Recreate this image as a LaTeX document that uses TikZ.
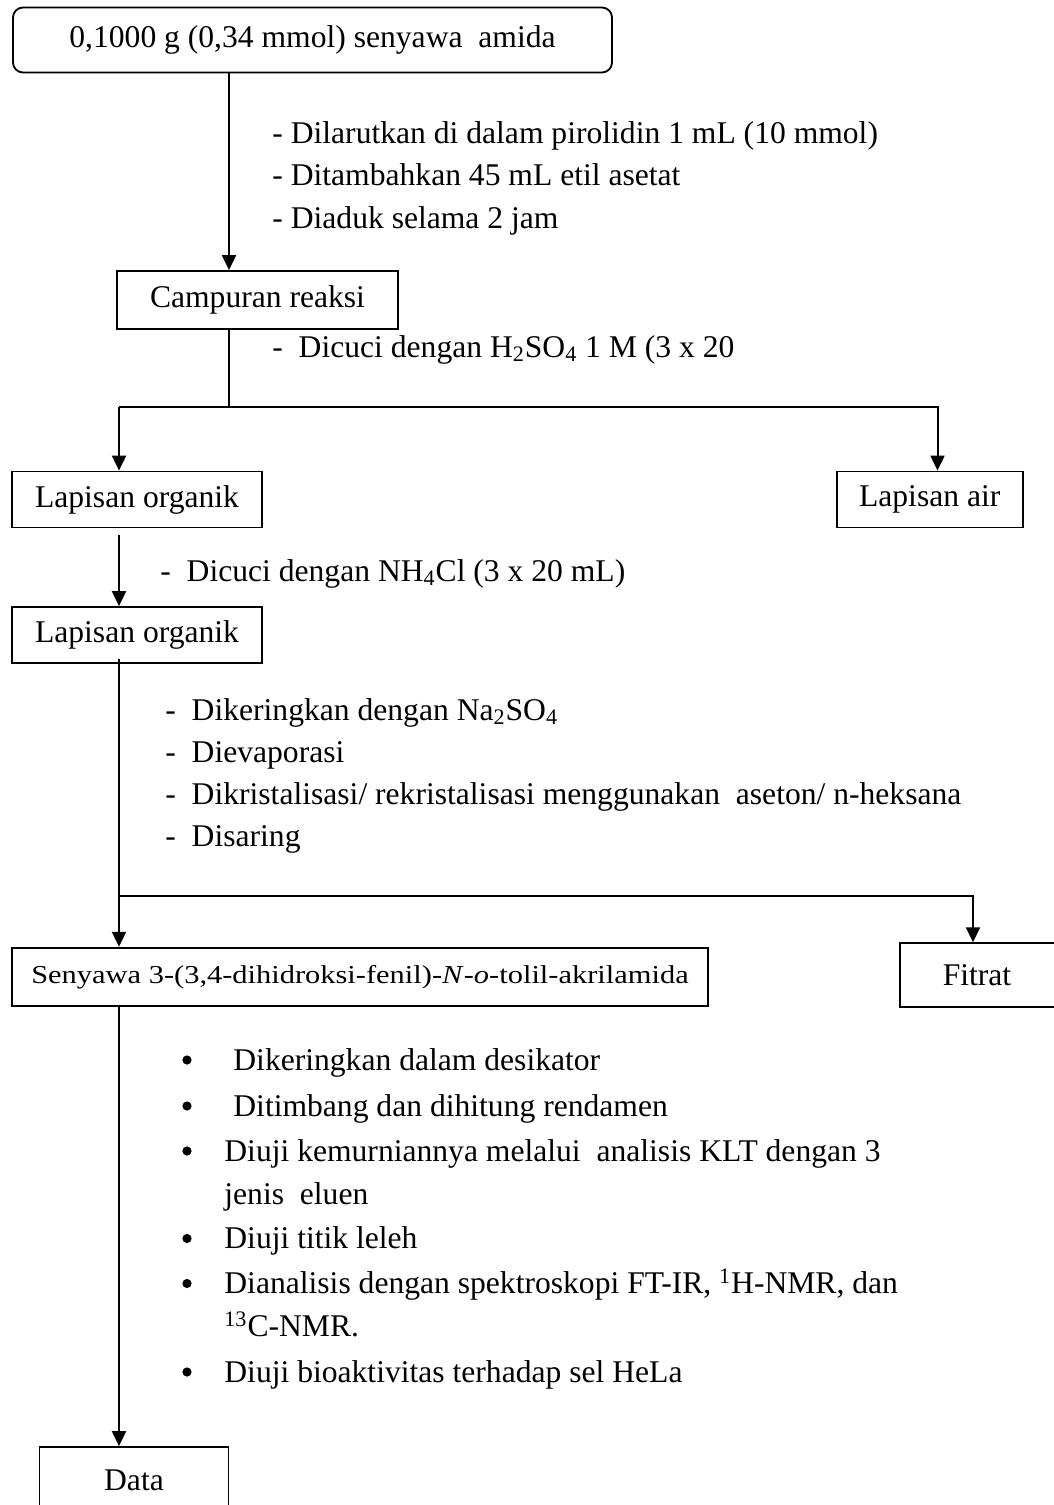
\documentclass[tikz,border=0pt]{standalone}
\usepackage{fontspec}
\setmainfont{Liberation Serif}
\newfontfamily\widefont[FakeStretch=1.18]{Liberation Serif}
\usetikzlibrary{arrows.meta,calc}
\begin{document}
\begin{tikzpicture}[x=0.5pt,y=-0.5pt,
  font=\fontsize{15.8}{19}\selectfont,
  box/.style={draw, line width=0.9pt, inner sep=0pt, align=center},
  arr/.style={-{Triangle[length=7.5pt,width=7pt]}, line width=1pt},
  ln/.style={line width=1pt},
  lbl/.style={anchor=base west, inner sep=0pt},
  bul/.style={circle, fill, inner sep=0pt, minimum size=4.6pt}]
\useasboundingbox (0,0) rectangle (1054,1505);
\clip (0,0) rectangle (1054,1505);
% boxes
\node[box, rounded corners=5pt, minimum width=299.5pt, minimum height=32.5pt] (top) at (312.5,40) {0,1000 g (0,34 mmol) senyawa\ \ amida};
\node[box, minimum width=140.5pt, minimum height=29pt] (camp) at (257.5,300) {Campuran reaksi};
\node[box, minimum width=125pt, minimum height=28pt] (org1) at (137,499.5) {Lapisan organik};
\node[box, minimum width=93pt, minimum height=28pt] (air) at (929.7,499.5) {Lapisan air};
\node[box, minimum width=125pt, minimum height=28pt] (org2) at (137,635) {Lapisan organik};
\node[box, minimum width=348pt, minimum height=29.3pt, font=\widefont\fontsize{12.9}{15}\selectfont] (seny) at (360,977) {Senyawa 3-(3,4-dihidroksi-fenil)-\textit{N}-\textit{o}-tolil-akrilamida};
\node[box, minimum width=85pt, minimum height=31.8pt] (fitrat) at (985,975) {};
\node[inner sep=0pt] (fitratt) at (977,975) {Fitrat};
\node[box, minimum width=94.5pt, minimum height=33pt] (data) at (134,1480) {Data};
% coordinates for connector lines
\coordinate (xa) at (229,0);
\coordinate (xb) at (119,0);
\coordinate (xc) at (937.5,0);
\coordinate (xd) at (973,0);
\coordinate (s1) at (229,406.5);
\coordinate (s2) at (119,895.5);
% connectors
\draw[arr] (xa |- top.south) -- (xa |- camp.north);
\draw[ln] (xa |- camp.south) -- (s1);
\draw[arr] (s1 -| xb) -- (s1 -| xc) -- (xc |- air.north);
\draw[arr] (s1 -| xb) -- (xb |- org1.north);
\draw[arr] ($(xb |- org1.south)+(0,7)$) -- (xb |- org2.north);
\draw[arr] ($(xb |- org2.south)+(0,-5)$) -- (xb |- seny.north);
\draw[arr] (s2) -| (xd |- fitrat.north);
\draw[arr] (xb |- seny.south) -- (xb |- data.north);
% step labels
\node[lbl] (t1) at (272,143) {- Dilarutkan di dalam pirolidin 1 mL (10 mmol)};
\node[lbl] (t2) at (272,185.5) {- Ditambahkan 45 mL etil asetat};
\node[lbl] (t3) at (272,228) {- Diaduk selama 2 jam};
\node[lbl] (t4) at (272,357) {-\ \ Dicuci dengan H\textsubscript{2}SO\textsubscript{4} 1 M (3 x 20};
\node[lbl] (t5) at (160,581) {-\ \ Dicuci dengan NH\textsubscript{4}Cl (3 x 20 mL)};
\node[lbl] (t6) at (165,720) {-\ \ Dikeringkan dengan Na\textsubscript{2}SO\textsubscript{4}};
\node[lbl] (t7) at (165,762) {-\ \ Dievaporasi};
\node[lbl] (t8) at (165,804) {-\ \ Dikristalisasi/ rekristalisasi menggunakan\ \ aseton/ n-heksana};
\node[lbl] (t9) at (165,846.5) {-\ \ Disaring};
% bullet list
\node[bul] (b1) at (187,1060) {};
\node[lbl] (u1) at (233,1070) {Dikeringkan dalam desikator};
\node[bul] (b2) at (187,1106) {};
\node[lbl] (u2) at (233,1116) {Ditimbang dan dihitung rendamen};
\node[bul] (b3) at (187,1151) {};
\node[lbl] (u3) at (224,1161) {Diuji kemurniannya melalui\ \ analisis KLT dengan 3};
\node[lbl] (u3b) at (224,1204.5) {jenis\ \ eluen};
\node[bul] (b4) at (187,1238.5) {};
\node[lbl] (u4) at (224,1248.5) {Diuji titik leleh};
\node[bul] (b5) at (187,1283.5) {};
\node[lbl] (u5) at (224,1293.5) {Dianalisis dengan spektroskopi FT-IR, \textsuperscript{1}H-NMR, dan};
\node[lbl] (u5b) at (224,1336.5) {\textsuperscript{13}C-NMR.};
\node[bul] (b6) at (187,1372) {};
\node[lbl] (u6) at (224,1382) {Diuji bioaktivitas terhadap sel HeLa};
\end{tikzpicture}
\end{document}
